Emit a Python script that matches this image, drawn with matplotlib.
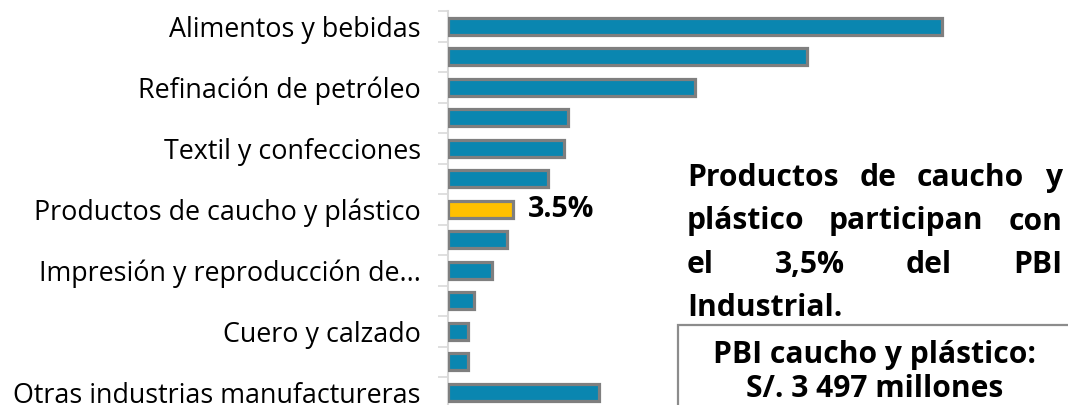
import matplotlib
matplotlib.use("Agg")
import matplotlib.pyplot as plt
from matplotlib.patches import Rectangle
from matplotlib.ticker import FixedLocator

# ---------------- data ----------------
categories = [
    "Alimentos y bebidas", "",
    "Refinación de petróleo", "",
    "Textil y confecciones", "",
    "Productos de caucho y plástico", "",
    "Impresión y reproducción de...", "",
    "Cuero y calzado", "",
    "Otras industrias manufactureras",
]
shares = [26.8, 19.5, 13.4, 6.5, 6.3, 5.4, 3.5, 3.2, 2.4, 1.4, 1.1, 1.1, 8.2]
highlight_index = 6
highlight_label = "3.5%"

paragraph_lines = [
    "Productos de caucho y",
    "plástico participan con",
    "el 3,5% del PBI",
    "Industrial.",
]
box_lines = ["PBI caucho y plástico:", "S/. 3 497 millones"]

# ---------------- style ----------------
W, H = 1068, 405
BLUE = "#0A86B0"
YELLOW = "#FFC000"
EDGE = "#7F7F7F"
AXIS = "#D9D9D9"
FONT = "Open Sans"

plt.rcParams["font.family"] = [FONT, "DejaVu Sans"]

fig = plt.figure(figsize=(W / 100, H / 100), dpi=100)

def fx(px):
    return px / W

def fy(py):
    return (H - py) / H

ax_left, ax_right = 448, 960
ax_top, ax_bot = 11, 407.5
ax = fig.add_axes([fx(ax_left), fy(ax_bot), fx(ax_right - ax_left), (ax_bot - ax_top) / H])

colors = [YELLOW if i == highlight_index else BLUE for i in range(len(shares))]
ypos = list(range(len(shares)))
ax.barh(ypos, shares, height=0.55, color=colors, edgecolor=EDGE, linewidth=2.3, zorder=3)

ax.set_ylim(len(shares) - 0.5, -0.5)
ax.set_xlim(0, (ax_right - ax_left) / 18.43)

ax.set_yticks(ypos)
ax.set_yticklabels(categories, fontsize=19.4, color="#000000")
ax.yaxis.set_minor_locator(FixedLocator([i - 0.5 for i in range(len(shares) + 1)]))
ax.tick_params(axis="y", which="major", length=0, pad=19.5)
ax.tick_params(axis="y", which="minor", length=7, width=1.2, color=AXIS)
ax.set_xticks([])
for s in ["top", "right", "bottom"]:
    ax.spines[s].set_visible(False)
ax.spines["left"].set_color(AXIS)
ax.spines["left"].set_linewidth(1.5)

ax.annotate(highlight_label, xy=(shares[highlight_index], highlight_index),
            xytext=(11, 0), textcoords="offset points", va="center", ha="left",
            fontsize=20.5, fontweight="bold", color="#000000")

# ---------------- paragraph (justified) ----------------
renderer = fig.canvas.get_renderer()
par_left, par_right = 687, 1062
baselines = [186, 229.5, 273, 316]
psize = 21.6
for li, (line, base) in enumerate(zip(paragraph_lines, baselines)):
    words = line.split(" ")
    last = li == len(paragraph_lines) - 1
    if last or len(words) == 1:
        fig.text(fx(par_left), fy(base), line, fontsize=psize, fontweight="bold",
                 ha="left", va="baseline")
        continue
    texts = [fig.text(0, 0, w, fontsize=psize, fontweight="bold", ha="left", va="baseline")
             for w in words]
    widths = [t.get_window_extent(renderer).width for t in texts]
    gap = (par_right - par_left - sum(widths)) / (len(words) - 1)
    x = par_left
    for t, w in zip(texts, widths):
        t.set_position((fx(x), fy(base)))
        x += w + gap

# ---------------- box ----------------
box_left, box_top = 678, 325
fig.patches.append(Rectangle((fx(box_left), fy(H + 20)), fx(1072 - box_left), (H + 20 - box_top) / H,
                             transform=fig.transFigure, fill=False, edgecolor="#8C8C8C",
                             linewidth=1.6, clip_on=False))
box_cx = 874.5
for line, base in zip(box_lines, [363, 397]):
    fig.text(fx(box_cx), fy(base), line, fontsize=21.6, fontweight="bold",
             ha="center", va="baseline")

fig.savefig("out.png", dpi=100)
